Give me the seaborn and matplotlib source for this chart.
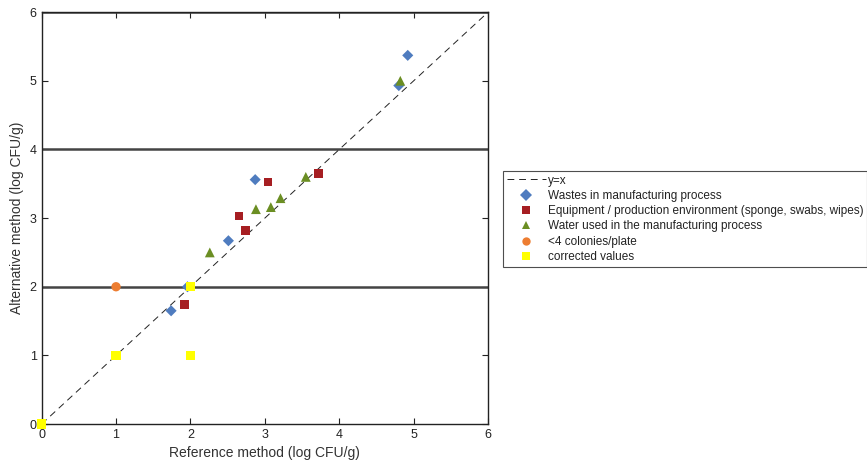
import matplotlib
matplotlib.use("Agg")
import matplotlib.pyplot as plt
import seaborn as sns
import pandas as pd
from matplotlib.lines import Line2D

sns.set_style("ticks")
plt.rcParams['font.family'] = ['Liberation Sans', 'DejaVu Sans']

cat_names = ["Wastes in manufacturing process",
             "Equipment / production environment (sponge, swabs, wipes)",
             "Water used in the manufacturing process",
             "<4 colonies/plate",
             "corrected values"]

waste_x = [4.92, 4.80, 2.87, 2.51, 1.74, 1.96]
waste_y = [5.37, 4.93, 3.56, 2.67, 1.65, 2.00]
equip_x = [3.04, 3.72, 2.65, 2.74, 1.92]
equip_y = [3.53, 3.65, 3.03, 2.82, 1.74]
water_x = [4.82, 3.55, 3.21, 3.08, 2.88, 2.26]
water_y = [5.00, 3.60, 3.29, 3.16, 3.13, 2.50]
few_x = [1.0]
few_y = [2.0]
corr_x = [1.0, 2.0, 2.0, 0.0]
corr_y = [1.0, 1.0, 2.0, 0.0]

colors = ["#4F7CBF", "#A61E22", "#6B8E23", "#ED7D31", "#FFFF00"]
markers = ["D", "s", "^", "o", "s"]
sizes = [32, 36, 50, 45, 45]

xs = [waste_x, equip_x, water_x, few_x, corr_x]
ys = [waste_y, equip_y, water_y, few_y, corr_y]

fig = plt.figure(figsize=(8.67, 4.66), dpi=100)
ax = fig.add_axes([0.048, 0.090, 0.515, 0.884])

for yv in [2, 4, 6]:
    ax.axhline(yv, color="#444444", lw=1.8, zorder=1)

ax.plot([0, 6], [0, 6], ls=(0, (7, 5)), color="#222222", lw=0.7, zorder=2)

handles = [Line2D([0], [0], ls=(0, (7, 5)), color="#222222", lw=0.7)]
for i in range(5):
    df = pd.DataFrame({"x": xs[i], "y": ys[i]})
    sns.scatterplot(data=df, x="x", y="y", ax=ax, marker=markers[i],
                    color=colors[i], s=sizes[i], edgecolor="none",
                    linewidth=0, zorder=3 + i, clip_on=False)
    handles.append(Line2D([0], [0], ls="none", marker=markers[i],
                          color=colors[i], markersize=6, markeredgewidth=0))

ax.set_xlim(0, 6)
ax.set_ylim(0, 6)
ax.set_xticks(range(7))
ax.set_yticks(range(7))
ax.tick_params(direction="in", top=True, right=True, length=4, labelsize=9,
               width=0.8, color="#222222", labelcolor="#222222")
for s in ax.spines.values():
    s.set_linewidth(1.0)
    s.set_color("#222222")
ax.set_xlabel("Reference method (log CFU/g)", fontsize=10, color="#333333")
ax.set_ylabel("Alternative method (log CFU/g)", fontsize=10, color="#333333")

labels = ["y=x"] + cat_names
leg = fig.legend(handles, labels, loc="upper left",
                 bbox_to_anchor=(503 / 867, 1 - 171 / 466),
                 fontsize=8.5, frameon=True, fancybox=False,
                 handlelength=3.3, handletextpad=0.2, labelspacing=0.28,
                 borderpad=0.3, borderaxespad=0)
for t in leg.get_texts():
    t.set_color("#222222")
leg.get_frame().set_edgecolor("#222222")
leg.get_frame().set_linewidth(0.8)

fig.savefig("out.png", dpi=100)
